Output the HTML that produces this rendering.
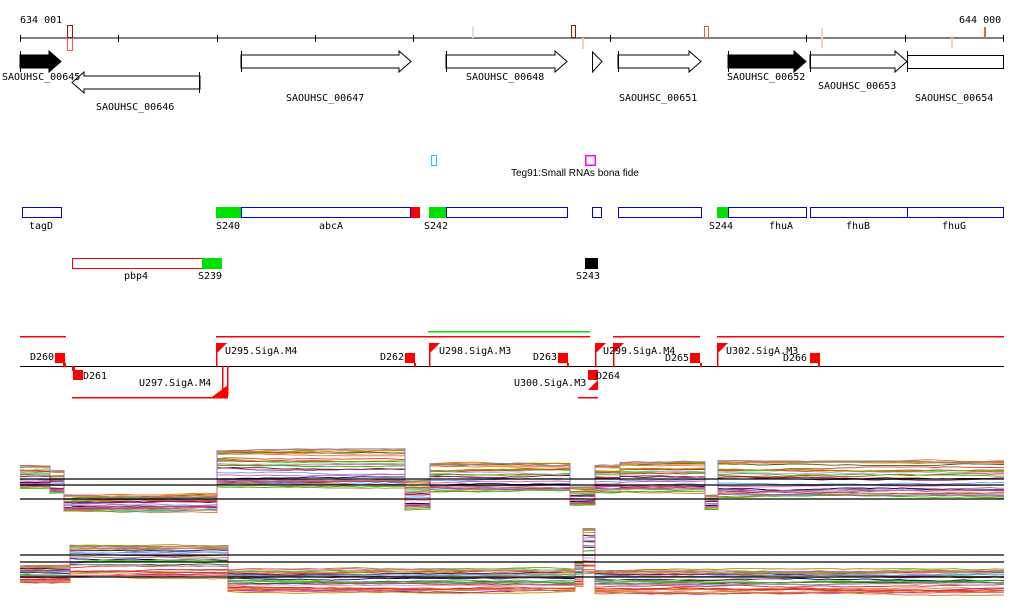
<!DOCTYPE html>
<html><head><meta charset="utf-8"><style>
body{margin:0;background:#fff}
svg{display:block}
text{font-family:"DejaVu Sans Mono","Liberation Mono",monospace;font-size:10px;fill:#000}
</style></head><body>
<svg id="sv" width="1024" height="611" viewBox="0 0 1024 611" xmlns="http://www.w3.org/2000/svg">
<line x1="20" y1="38" x2="1004" y2="38" stroke="#000"/>
<g stroke="#000">
<line x1="20.5" y1="35" x2="20.5" y2="42"/><line x1="118.5" y1="35" x2="118.5" y2="42"/><line x1="217.5" y1="35" x2="217.5" y2="42"/><line x1="315.5" y1="35" x2="315.5" y2="42"/><line x1="413.5" y1="35" x2="413.5" y2="42"/><line x1="610.5" y1="35" x2="610.5" y2="42"/><line x1="806.5" y1="35" x2="806.5" y2="42"/><line x1="905.5" y1="35" x2="905.5" y2="42"/><line x1="1003.5" y1="35" x2="1003.5" y2="42"/>
</g>
<text x="20" y="23">634 001</text><text x="959" y="23">644 000</text>
<rect x="67.5" y="25.5" width="5" height="12" fill="none" stroke="#a01010"/>
<rect x="67.5" y="38.5" width="5" height="12" fill="none" stroke="#f06040"/>
<rect x="472" y="27" width="2" height="11" fill="#f8d8c8"/>
<rect x="571.5" y="25.5" width="4" height="12" fill="none" stroke="#a01010"/>
<rect x="582" y="38" width="2" height="11" fill="#f8d0c0"/>
<rect x="704.5" y="26.5" width="4" height="12" fill="none" stroke="#f06040"/>
<rect x="821" y="28" width="2" height="20" fill="#f8d0c0"/>
<rect x="951" y="38" width="2" height="10" fill="#f8d0c0"/>
<rect x="984" y="27" width="2" height="11" fill="#f06040"/>
<g stroke="#000" fill="#fff">
<path d="M20 55H49V51L61 61.5L49 72V68H20Z" fill="#000"/>
<line x1="20.5" y1="51" x2="20.5" y2="72"/>
<path d="M200 76H84V72L72 82.5L84 93V89H200Z"/><line x1="199.5" y1="72" x2="199.5" y2="93"/>
<path d="M241 55H399V51L411 61.5L399 72V68H241Z"/><line x1="241.5" y1="51" x2="241.5" y2="72"/>
<path d="M446 55H555V51L567 61.5L555 72V68H446Z"/><line x1="446.5" y1="51" x2="446.5" y2="72"/>
<path d="M592.5 52L602 61.5L592.5 72Z"/>
<path d="M618 55H689V51L701 61.5L689 72V68H618Z"/><line x1="618.5" y1="51" x2="618.5" y2="72"/>
<path d="M728 55H794V51L806 61.5L794 72V68H728Z" fill="#000"/><line x1="728.5" y1="51" x2="728.5" y2="72"/>
<path d="M810 55H895V51L907 61.5L895 72V68H810Z"/><line x1="810.5" y1="51" x2="810.5" y2="72"/>
<rect x="907.5" y="55.5" width="96" height="13"/><line x1="907.5" y1="51" x2="907.5" y2="72"/>
</g>
<text x="2" y="80">SAOUHSC_00645</text>
<text x="96" y="110">SAOUHSC_00646</text>
<text x="286" y="101">SAOUHSC_00647</text>
<text x="466" y="80">SAOUHSC_00648</text>
<text x="619" y="101">SAOUHSC_00651</text>
<text x="727" y="80">SAOUHSC_00652</text>
<text x="818" y="89">SAOUHSC_00653</text>
<text x="915" y="101">SAOUHSC_00654</text>
<rect x="431.5" y="155.5" width="5" height="10" fill="none" stroke="#00d8e8"/>
<rect x="585" y="155" width="11" height="11" fill="#ff00ff"/>
<rect x="586.5" y="156.5" width="8" height="8" fill="#fff"/>
<text x="511" y="176" style="font-family:'Liberation Sans Narrow','Liberation Sans',sans-serif">Teg91:Small RNAs bona fide</text>
<g stroke="#0000e0" fill="#fff">
<rect x="22.5" y="207.5" width="39" height="10"/>
<rect x="241.5" y="207.5" width="169" height="10"/>
<rect x="446.5" y="207.5" width="121" height="10"/>
<rect x="592.5" y="207.5" width="9" height="10"/>
<rect x="618.5" y="207.5" width="83" height="10"/>
<rect x="728.5" y="207.5" width="78" height="10"/>
<rect x="810.5" y="207.5" width="97" height="10"/>
<rect x="907.5" y="207.5" width="96" height="10"/>
</g>
<rect x="216" y="207" width="25" height="11" fill="#00e000"/>
<rect x="411" y="207" width="9" height="11" fill="#f00"/>
<rect x="429" y="207" width="17" height="11" fill="#00e000"/>
<rect x="717" y="207" width="11" height="11" fill="#00e000"/>
<g style="font-family:'Liberation Sans Narrow','Liberation Sans',sans-serif">
<text x="29" y="229">tagD</text><text x="216" y="229">S240</text><text x="319" y="229">abcA</text><text x="424" y="229">S242</text><text x="709" y="229">S244</text><text x="769" y="229">fhuA</text><text x="846" y="229">fhuB</text><text x="942" y="229">fhuG</text>
<text x="124" y="279">pbp4</text><text x="198" y="279">S239</text><text x="576" y="279">S243</text>
</g>
<rect x="72.5" y="258.5" width="130" height="10" fill="#fff" stroke="#f00"/>
<rect x="202" y="258" width="20" height="11" fill="#00e000"/>
<rect x="585" y="258" width="13" height="11" fill="#000"/>
<g fill="#f00">
<rect x="20" y="336" width="46" height="1.5"/>
<rect x="216" y="336" width="374" height="1.5"/>
<rect x="613" y="336" width="87" height="1.5"/>
<rect x="717" y="336" width="287" height="1.5"/>
<rect x="72" y="397" width="156" height="1.5"/>
<rect x="578" y="397" width="20" height="1.5"/>
</g>
<rect x="428" y="331" width="162" height="1.5" fill="#00e000"/>
<line x1="20" y1="366.5" x2="1004" y2="366.5" stroke="#000"/>
<g fill="#f00" stroke="none">
<rect x="55" y="353" width="10" height="10"/><rect x="63" y="363" width="3" height="4"/>
<rect x="73" y="370" width="10" height="10"/><rect x="72" y="366" width="3" height="5"/>
<rect x="216" y="343" width="1.5" height="24"/><path d="M217 343H227L217 353Z"/>
<rect x="405" y="353" width="10" height="10"/><rect x="414" y="363" width="2" height="4"/>
<rect x="429" y="343" width="1.5" height="24"/><path d="M430 343H440L430 353Z"/>
<rect x="558" y="353" width="10" height="10"/><rect x="567" y="363" width="2" height="4"/>
<rect x="595" y="343" width="1.5" height="24"/><path d="M596 343H606L596 353Z"/>
<rect x="613" y="343" width="1.5" height="24"/><path d="M614 343H624L614 353Z"/>
<rect x="588" y="370" width="10" height="10"/>
<path d="M588 390H598V380Z"/>
<rect x="690" y="353" width="10" height="10"/><rect x="700" y="363" width="2" height="4"/>
<rect x="717" y="343" width="1.5" height="24"/><path d="M718 343H728L718 353Z"/>
<rect x="810" y="353" width="10" height="10"/><rect x="818" y="363" width="2" height="4"/>
<rect x="222" y="366" width="1.5" height="30"/><rect x="227" y="366" width="1.5" height="30"/>
<path d="M212 397H228V385Z"/>
</g>
<g style="font-family:'DejaVu Sans Mono','Liberation Mono',monospace" font-size="11">
<text x="30" y="360">D260</text><text x="83" y="379">D261</text>
<text x="225" y="354">U295.SigA.M4</text>
<text x="139" y="386">U297.SigA.M4</text>
<text x="380" y="360">D262</text>
<text x="439" y="354">U298.SigA.M3</text>
<text x="533" y="360">D263</text>
<text x="514" y="386">U300.SigA.M3</text>
<text x="596" y="379">D264</text>
<text x="603" y="354">U299.SigA.M4</text>
<text x="665" y="361">D265</text>
<text x="726" y="354">U302.SigA.M3</text>
<text x="783" y="361">D266</text>
</g>
<g id="plots"></g>
<g stroke="#000" stroke-width="1.3">
<line x1="20" y1="479" x2="1004" y2="479"/><line x1="20" y1="485" x2="1004" y2="485"/><line x1="20" y1="499" x2="1004" y2="499"/>
<line x1="20" y1="555" x2="1004" y2="555"/><line x1="20" y1="562" x2="1004" y2="562"/><line x1="20" y1="577" x2="1004" y2="577"/>
</g>
</svg>
<script>
(function(){
var cols=["#e03020","#f07030","#80a000","#30c000","#a02080","#8080c0","#60a0f0","#c08040","#a06060","#e060a0","#406000","#000060","#d04040","#909000","#c0a0e0","#f0a060","#502020","#60c060","#b03060","#d08000"];
var p1=[[20,465,490],[50,470,495],[64,495,512],[72,495,512],[217,450,490],[405,480,512],[430,463,494],[570,487,507],[595,465,494],[620,462,494],[705,495,510],[718,460,500],[1004,460,500]];
var p2=[[20,565,583],[70,543,578],[228,568,592],[575,560,587],[583,525,575],[595,568,594],[1004,568,594]];
var g=document.getElementById("plots"),s="";
var seed=7;function r(){seed=(seed*9301+49297)%233280;return seed/233280;}
function band(p){
 for(var i=0;i<30;i++){
  var f=Math.pow(r(),1.3),c=cols[i%cols.length],d="";
  for(var k=0;k<p.length-1;k++){
   var a=p[k],b=p[k+1],off=0;
   for(var x=a[0];x<b[0];x+=8){
    off+= (r()-0.5)*1.2; if(off>2)off=2; if(off<-2)off=-2;
    var y=(a[1]+f*(a[2]-a[1])+off).toFixed(1);
    d+=(d?"L":"M")+x+" "+y;
   }
   var ye=(a[1]+f*(a[2]-a[1])+off).toFixed(1);
   d+="L"+b[0]+" "+ye;
  }
  s+='<path d="'+d+'" fill="none" stroke="'+c+'" stroke-width="0.9"/>';
 }
}
band(p1);band(p2);
g.innerHTML=s;
})();
</script>
</body></html>
